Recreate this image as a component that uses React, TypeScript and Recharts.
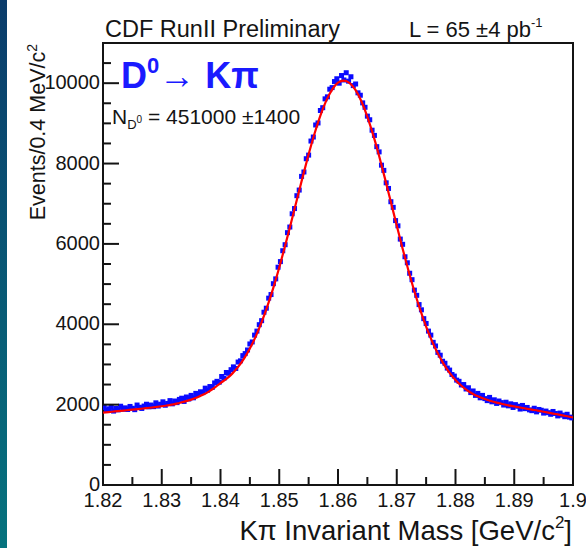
import React from 'react';
import { ComposedChart, Scatter, Line, XAxis, YAxis, ReferenceArea } from 'recharts';

// histogram: 200 bins of 0.4 MeV from 1.82 to 1.90 GeV
const BIN_LO = 1.82;
const BIN_W = 0.0004;
const counts: number[] = [
  1930, 1860, 1895, 1950, 1840, 1905, 1870, 1960, 1885, 1920,
  1880, 1955, 1910, 1875, 1990, 1935, 1905, 1965, 2010, 1945,
  1990, 1950, 2045, 1965, 2010, 2070, 1985, 2030, 2100, 2020,
  2090, 2050, 2130, 2160, 2080, 2190, 2140, 2230, 2170, 2280,
  2250, 2320, 2300, 2410, 2360, 2450, 2430, 2540, 2580, 2560,
  2700, 2660, 2800, 2780, 2870, 2940, 2900, 3060, 3090, 3220,
  3270, 3360, 3510, 3560, 3730, 3830, 3990, 4090, 4300, 4400,
  4650, 4740, 5010, 5130, 5420, 5560, 5830, 5980, 6280, 6420,
  6750, 6880, 7200, 7340, 7680, 7790, 8120, 8210, 8560, 8660,
  8960, 9010, 9320, 9390, 9610, 9660, 9850, 9890, 10040, 10110,
  10000, 10190, 10080, 10260, 10050, 10160, 9940, 9980, 9760, 9700,
  9510, 9400, 9180, 9090, 8830, 8700, 8420, 8290, 7960, 7830,
  7520, 7380, 7050, 6910, 6580, 6450, 6120, 5990, 5680, 5530,
  5270, 5110, 4850, 4720, 4490, 4360, 4140, 4020, 3830, 3730,
  3550, 3460, 3300, 3230, 3080, 3030, 2910, 2860, 2750, 2710,
  2610, 2580, 2490, 2500, 2390, 2420, 2300, 2340, 2230, 2280,
  2170, 2230, 2150, 2100, 2180, 2070, 2120, 2030, 2090, 2050,
  1990, 2060, 1970, 2020, 1930, 2000, 1960, 1890, 1980, 1900,
  1930, 1870, 1850, 1910, 1820, 1880, 1860, 1790, 1840, 1800,
  1760, 1830, 1780, 1720, 1790, 1740, 1700, 1760, 1690, 1670,
];

// fit curve sampled every 1 MeV from 1.820 to 1.900
const FIT_LO = 1.82;
const FIT_STEP = 0.001;
const fitValues: number[] = [
  1800, 1815, 1830, 1845, 1860, 1875, 1890, 1906, 1923, 1941,
  1960, 1982, 2005, 2042, 2080, 2124, 2178, 2244, 2325, 2421,
  2538, 2639, 2772, 2939, 3147, 3397, 3699, 4051, 4456, 4911,
  5413, 5953, 6520, 7099, 7675, 8229, 8742, 9193, 9565, 9841,
  10011, 10066, 10003, 9826, 9543, 9164, 8706, 8186, 7625, 7042,
  6456, 5881, 5333, 4822, 4358, 3944, 3582, 3270, 3008, 2791,
  2615, 2471, 2357, 2266, 2195, 2139, 2091, 2050, 2015, 1983,
  1955, 1928, 1902, 1876, 1851, 1822, 1795, 1767, 1739, 1710,
  1680,
];

const xMajor = [1.82, 1.83, 1.84, 1.85, 1.86, 1.87, 1.88, 1.89, 1.9];
const xMinor = [1.825, 1.835, 1.845, 1.855, 1.865, 1.875, 1.885, 1.895];
const yMajor = [0, 2000, 4000, 6000, 8000, 10000];
const yMinor = [500, 1000, 1500, 2500, 3000, 3500, 4500, 5000, 5500, 6500, 7000, 7500, 8500, 9000, 9500, 10500];

const histData = counts.map((c, i) => ({ x: BIN_LO + BIN_W * (i + 0.5), y: c }));
const fitData = fitValues.map((v, i) => ({ x: FIT_LO + FIT_STEP * i, y: v }));

const FONT = '"Liberation Sans", Arial, Helvetica, sans-serif';
const INK = '#141414';

const XTick = (props: any) => {
  const { x, y, payload } = props;
  const major = xMajor.includes(payload.value);
  return (
    <g>
      <line x1={x} x2={x} y1={y} y2={y - (major ? 16 : 8)} stroke={INK} strokeWidth={2} />
      {major && (
        <text x={x} y={y + 22} textAnchor="middle" fontSize={20} fontFamily={FONT} fill={INK}>
          {String(payload.value)}
        </text>
      )}
    </g>
  );
};

const YTick = (props: any) => {
  const { x, y, payload } = props;
  const major = yMajor.includes(payload.value);
  return (
    <g>
      <line x1={x} x2={x + (major ? 16 : 8)} y1={y} y2={y} stroke={INK} strokeWidth={2} />
      {major && (
        <text x={x - 3} y={y + 6} textAnchor="end" fontSize={20} fontFamily={FONT} fill={INK}>
          {String(payload.value)}
        </text>
      )}
    </g>
  );
};

const Marker = (props: any) => {
  const { cx, cy } = props;
  if (cx == null || cy == null) return null;
  return <rect x={cx - 2.5} y={cy - 2.5} width={5} height={5} fill="#0a0aff" />;
};

export default function App() {
  return (
    <div style={{ position: 'absolute', left: 0, top: 0, width: 586, height: 548, background: '#fff', overflow: 'hidden' }}>
      <div style={{ position: 'absolute', left: 0, top: 0, width: 7, height: 548, background: 'linear-gradient(#0b3c6b, #06737e)' }} />
      <div style={{ position: 'absolute', left: 0, top: 0 }}>
        <ComposedChart width={586} height={548} margin={{ top: 43, right: 13, bottom: 23, left: 43 }}>
          <XAxis
            type="number"
            dataKey="x"
            domain={[1.82, 1.9]}
            ticks={[...xMajor, ...xMinor]}
            interval={0}
            tick={XTick}
            tickLine={false}
            axisLine={false}
            tickSize={0}
            tickMargin={0}
            height={40}
            allowDataOverflow
          />
          <YAxis
            type="number"
            dataKey="y"
            domain={[0, 11000]}
            ticks={[...yMajor, ...yMinor]}
            interval={0}
            tick={YTick}
            tickLine={false}
            axisLine={false}
            tickSize={0}
            tickMargin={0}
            width={60}
            allowDataOverflow
          />
          <ReferenceArea x1={1.82} x2={1.9} y1={0} y2={11000} fill="none" stroke={INK} strokeWidth={2} ifOverflow="visible" />
          <Scatter data={histData} dataKey="y" shape={<Marker />} isAnimationActive={false} />
          <Line
            data={fitData}
            dataKey="y"
            type="monotone"
            stroke="#ff0000"
            strokeWidth={2.2}
            dot={false}
            isAnimationActive={false}
            {...({ zIndex: 900 } as any)}
          />
        </ComposedChart>
      </div>
      <svg width={586} height={548} style={{ position: 'absolute', left: 0, top: 0, pointerEvents: 'none' }}>
        <text x={105} y={37} fontSize={23.5} fontFamily={FONT} fill={INK}>CDF RunII Preliminary</text>
        <text x={409} y={37} fontSize={22} fontFamily={FONT} fill={INK}>
          L = 65 ±4 pb<tspan dy={-10} fontSize={13}>-1</tspan>
        </text>
        <text x={121} y={88} fontSize={36} fontWeight="bold" fontFamily={FONT} fill="#1a1aff">
          D<tspan fontSize={22} dy={-15}>0</tspan>
          <tspan dy={15} fontWeight="normal">→ </tspan>Kπ
        </text>
        <text x={112} y={124} fontSize={21} fontFamily={FONT} fill={INK}>
          N<tspan fontSize={13} dy={5}>D</tspan>
          <tspan fontSize={10} dy={-6}>0</tspan>
          <tspan dy={1}> = 451000 ±1400</tspan>
        </text>
        <text x={45} y={44} transform="rotate(-90 45 44)" textAnchor="end" fontSize={21.5} fontFamily={FONT} fill={INK}>
          Events/0.4 MeV/c<tspan dy={-8} fontSize={14}>2</tspan>
        </text>
        <text x={572} y={540} textAnchor="end" fontSize={27.5} fontFamily={FONT} fill={INK}>
          Kπ Invariant Mass [GeV/c<tspan dy={-12} fontSize={17}>2</tspan>
          <tspan dy={12}>]</tspan>
        </text>
      </svg>
    </div>
  );
}
